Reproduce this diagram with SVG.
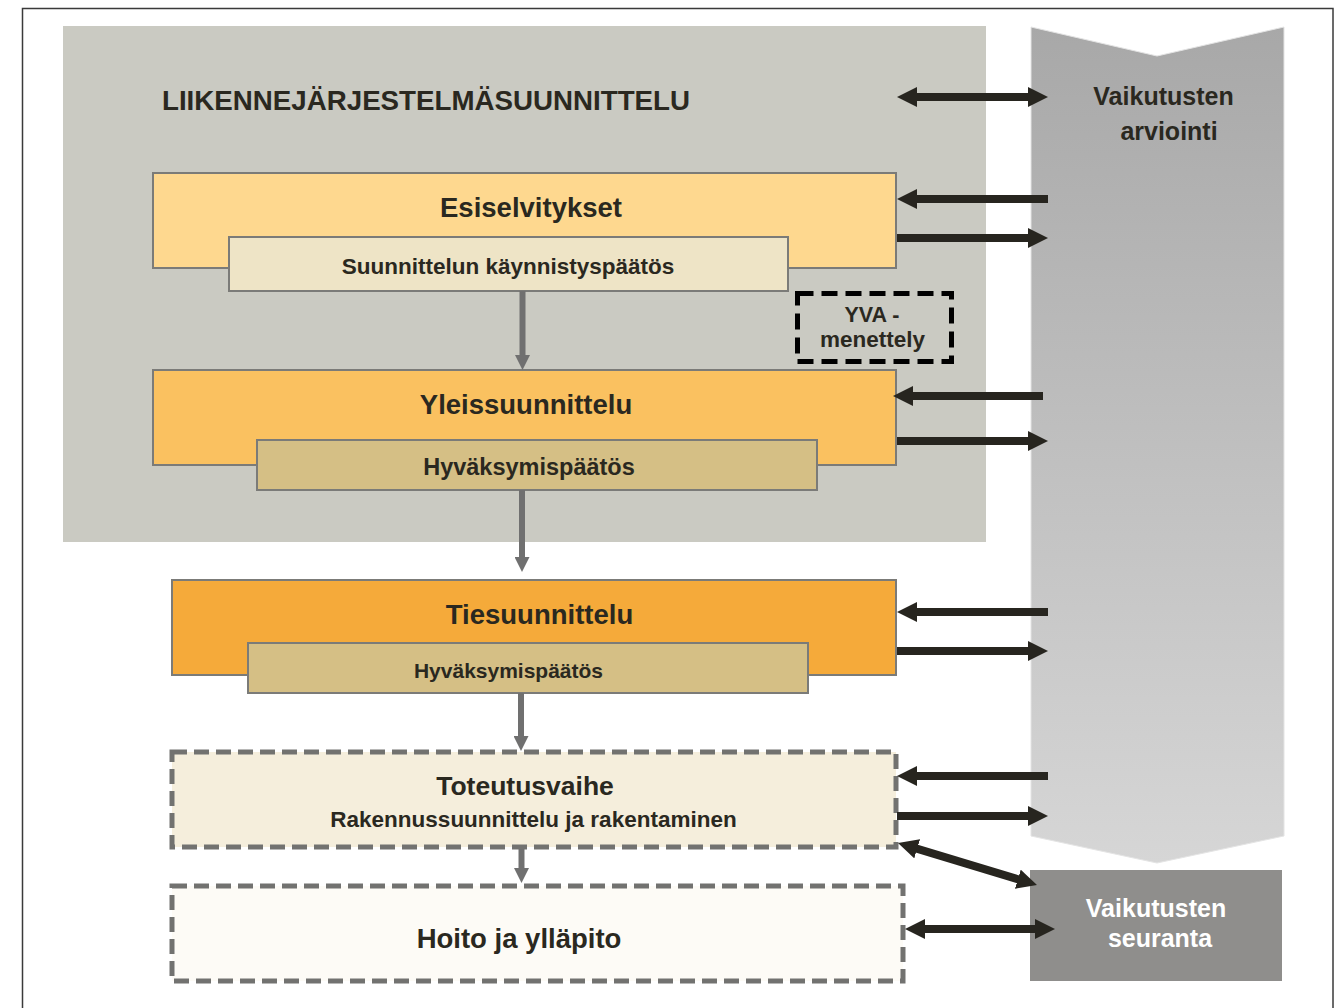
<svg xmlns="http://www.w3.org/2000/svg" width="1339" height="1008" viewBox="0 0 1339 1008">
<defs>
<style>
text{font-family:"Liberation Sans",Arial,sans-serif;font-weight:bold;fill:#2a2820;text-anchor:middle}
.box{stroke:#7b7b78;stroke-width:2}
.dash{stroke:#727270;stroke-width:5;stroke-dasharray:15 7}
.blk{stroke:#27251f;stroke-width:8;fill:none}
.gry{stroke:#707070;stroke-width:6;fill:none}
.t1{font-size:27.5px}
.t2{font-size:22.5px}
</style>
<linearGradient id="chev" x1="0" y1="0" x2="0" y2="1">
<stop offset="0" stop-color="#a8a8a8"/>
<stop offset="1" stop-color="#d6d6d6"/>
</linearGradient>
<marker id="ah" markerUnits="userSpaceOnUse" markerWidth="20" markerHeight="20" viewBox="0 0 20 20" refX="10" refY="10" orient="auto-start-reverse">
<path d="M0,0 L20,10 L0,20 z" fill="#27251f"/>
</marker>
<marker id="gh" markerUnits="userSpaceOnUse" markerWidth="15" markerHeight="15" viewBox="0 0 15 15" refX="7" refY="7.5" orient="auto">
<path d="M0,0 L15,7.5 L0,15 z" fill="#707070"/>
</marker>
</defs>
<rect x="0" y="0" width="1339" height="1008" fill="#ffffff"/>
<rect x="22.5" y="8.5" width="1310.5" height="1020" fill="none" stroke="#3a3a3a" stroke-width="1.5"/>

<g id="liikennejarjestelma">
<rect x="63" y="26" width="923" height="516" fill="#cacac2"/>
<text x="162" y="110" style="text-anchor:start;font-size:28px" textLength="528" lengthAdjust="spacingAndGlyphs">LIIKENNEJÄRJESTELMÄSUUNNITTELU</text>
</g>

<g id="vaikutusten-arviointi">
<polygon points="1031,27 1157,56 1284,27 1284,836 1157,863 1031,836" fill="url(#chev)" stroke="#e4e4e4" stroke-width="1"/>
<text x="1163.5" y="105" style="font-size:25px">Vaikutusten</text>
<text x="1169" y="140" style="font-size:25px">arviointi</text>
</g>

<g id="esiselvitykset">
<rect class="box" x="153" y="173" width="743" height="95" fill="#fed88f"/>
<text class="t1" x="531" y="217">Esiselvitykset</text>
</g>
<g id="kaynnistyspaatos">
<rect class="box" x="229" y="237" width="559" height="54" fill="#eee4c6"/>
<text class="t2" x="508" y="274">Suunnittelun käynnistyspäätös</text>
</g>

<g id="yva">
<rect x="797.5" y="293.5" width="154" height="68" fill="none" stroke="#000000" stroke-width="5" stroke-dasharray="16 8"/>
<text x="872" y="322" style="font-size:21.5px">YVA -</text>
<text x="872.5" y="347" style="font-size:22.5px">menettely</text>
</g>

<g id="yleissuunnittelu">
<rect class="box" x="153" y="370" width="743" height="95" fill="#fac160"/>
<text class="t1" x="526" y="414">Yleissuunnittelu</text>
</g>
<g id="hyvaksymispaatos-1">
<rect class="box" x="257" y="440" width="560" height="50" fill="#d5bf85"/>
<text x="529" y="475" style="font-size:23.5px">Hyväksymispäätös</text>
</g>

<g id="tiesuunnittelu">
<rect class="box" x="172" y="580" width="724" height="95" fill="#f5aa3a"/>
<text class="t1" x="539.5" y="624">Tiesuunnittelu</text>
</g>
<g id="hyvaksymispaatos-2">
<rect class="box" x="248" y="643" width="560" height="50" fill="#d5bf85"/>
<text x="508.5" y="678" style="font-size:21px">Hyväksymispäätös</text>
</g>

<g id="toteutusvaihe">
<rect class="dash" x="172" y="752" width="724" height="95" fill="#f5eedc"/>
<text x="525" y="795" style="font-size:26.5px">Toteutusvaihe</text>
<text x="533.5" y="827" style="font-size:22.5px">Rakennussuunnittelu ja rakentaminen</text>
</g>

<g id="hoito">
<rect class="dash" x="172" y="886" width="731" height="95" fill="#fdfbf6"/>
<text class="t1" x="519" y="948">Hoito ja ylläpito</text>
</g>

<g id="vaikutusten-seuranta">
<rect x="1030" y="870" width="252" height="111" fill="#8f8e8c"/>
<text x="1156" y="917" style="font-size:25px;fill:#ffffff">Vaikutusten</text>
<text x="1160" y="947" style="font-size:25px;fill:#ffffff">seuranta</text>
</g>

<g id="connectors">
<line class="gry" x1="522.5" y1="291" x2="522.5" y2="362" marker-end="url(#gh)"/>
<line class="gry" x1="522" y1="490" x2="522" y2="564" marker-end="url(#gh)"/>
<line class="gry" x1="521" y1="693" x2="521" y2="743" marker-end="url(#gh)"/>
<line class="gry" x1="521.5" y1="849" x2="521.5" y2="875" marker-end="url(#gh)"/>

<line class="blk" x1="907" y1="97" x2="1038" y2="97" marker-start="url(#ah)" marker-end="url(#ah)"/>
<line class="blk" x1="1048" y1="199" x2="907" y2="199" marker-end="url(#ah)"/>
<line class="blk" x1="897" y1="238" x2="1038" y2="238" marker-end="url(#ah)"/>
<line class="blk" x1="1043" y1="396" x2="903" y2="396" marker-end="url(#ah)"/>
<line class="blk" x1="897" y1="441" x2="1038" y2="441" marker-end="url(#ah)"/>
<line class="blk" x1="1048" y1="612" x2="907" y2="612" marker-end="url(#ah)"/>
<line class="blk" x1="897" y1="651" x2="1038" y2="651" marker-end="url(#ah)"/>
<line class="blk" x1="1048" y1="776" x2="907" y2="776" marker-end="url(#ah)"/>
<line class="blk" x1="897" y1="816" x2="1038" y2="816" marker-end="url(#ah)"/>
<line class="blk" x1="907.6" y1="845.9" x2="1027.4" y2="882.1" marker-start="url(#ah)" marker-end="url(#ah)"/>
<line class="blk" x1="915" y1="929" x2="1045" y2="929" marker-start="url(#ah)" marker-end="url(#ah)"/>
</g>
</svg>
